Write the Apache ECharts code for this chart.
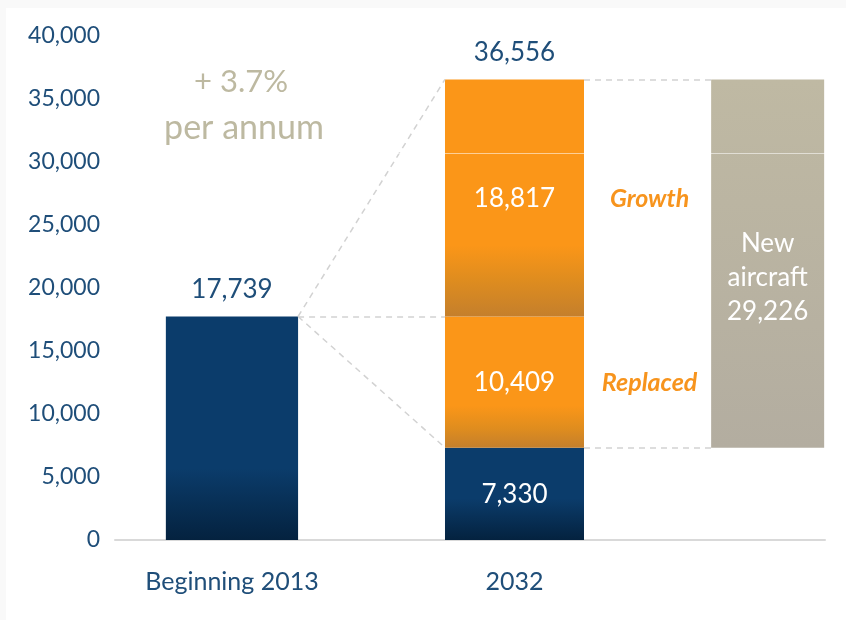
<!DOCTYPE html>
<html>
<head>
<meta charset="utf-8">
<script src="https://cdn.jsdelivr.net/npm/echarts@6/dist/echarts.min.js"></script>
<style>
  html, body { margin: 0; padding: 0; background: #f9f9f9; }
  #chart { width: 846px; height: 620px; }
</style>
</head>
<body>
<div id="chart"></div>
<script>
// ---- data ----
const categories = ['Beginning 2013', '2032'];
const fleet2013 = 17739;
const retained2032 = 7330;
const replaced2032 = 10409;
const growth2032 = 18817;
const total2032 = 36556;
const newAircraft = 29226;
const growthRateText = ['+ 3.7%', 'per annum'];
const segmentNames = ['Growth', 'Replaced'];
const newAircraftName = ['New', 'aircraft'];
const yTickValues = [0, 5000, 10000, 15000, 20000, 25000, 30000, 35000, 40000];

// ---- layout (x slots in axis units) ----
const SLOT = { y2013: 1, y2032: 2, newAc: 2.896 };
const WIDTH = { y2013: 0.468, y2032: 0.492, newAc: 0.40 };
const X_MIN = 0.586, X_MAX = 3.099;

const fmt = v => v.toLocaleString('en-US');

const NAVY = '#0b3c6b', NAVY_D = '#04223f';
const ORANGE = '#fb9618', ORANGE_D = '#c47f2c';
const LABEL_NAVY = '#1f4e79';
const FONT = 'Lato, "Open Sans", sans-serif';

function grad(stops) {
  return new echarts.graphic.LinearGradient(0, 0, 0, 1,
    stops.map(s => ({ offset: s[0], color: s[1] })));
}

// segments: [xSlot, width, from, to, kind]
const segments = [
  [SLOT.y2013, WIDTH.y2013, 0, fleet2013, 0],
  [SLOT.y2032, WIDTH.y2032, 0, retained2032, 1],
  [SLOT.y2032, WIDTH.y2032, retained2032, retained2032 + replaced2032, 2],
  [SLOT.y2032, WIDTH.y2032, retained2032 + replaced2032, total2032, 3],
  [SLOT.newAc, WIDTH.newAc, retained2032, retained2032 + newAircraft, 4]
];

const fills = [
  grad([[0, NAVY], [0.68, NAVY], [1, NAVY_D]]),
  grad([[0, NAVY], [0.55, NAVY], [1, NAVY_D]]),
  grad([[0, ORANGE], [0.68, ORANGE], [0.85, '#e08d1e'], [1, ORANGE_D]]),
  grad([[0, ORANGE], [0.70, ORANGE], [0.85, '#de8c1f'], [1, ORANGE_D]]),
  grad([[0, '#bfb9a3'], [1, '#b3ada0']])
];

const innerText = [
  null,
  fmt(retained2032),
  fmt(replaced2032),
  fmt(growth2032),
  newAircraftName.join('\n') + '\n' + fmt(newAircraft)
];
const topText = [fmt(fleet2013), null, null, fmt(total2032), null];
const sideText = [null, null, segmentNames[1], segmentNames[0], null];

function renderItem(params, api) {
  const x = api.value(0), w = api.value(1), y0 = api.value(2), y1 = api.value(3);
  const kind = api.value(4);
  const p0 = api.coord([x - w / 2, y1]);
  const p1 = api.coord([x + w / 2, y0]);
  const children = [{
    type: 'rect',
    shape: { x: p0[0], y: p0[1], width: p1[0] - p0[0], height: p1[1] - p0[1] },
    style: { fill: fills[kind] }
  }];
  const cx = (p0[0] + p1[0]) / 2, cy = (p0[1] + p1[1]) / 2;
  if (innerText[kind]) {
    children.push({
      type: 'text',
      style: {
        text: innerText[kind], x: cx, y: kind === 4 ? cy + 14 : cy + 1,
        align: 'center', verticalAlign: 'middle',
        fill: '#ffffff', font: '26px ' + FONT, lineHeight: 34
      }
    });
  }
  if (topText[kind]) {
    children.push({
      type: 'text',
      style: {
        text: topText[kind], x: cx, y: p0[1] - 27,
        align: 'center', verticalAlign: 'middle',
        fill: LABEL_NAVY, font: '26px ' + FONT
      }
    });
  }
  if (sideText[kind]) {
    const rightEdge = api.coord([SLOT.y2032 + WIDTH.y2032 / 2, 0])[0];
    const nextLeft = api.coord([SLOT.newAc - WIDTH.newAc / 2, 0])[0];
    children.push({
      type: 'text',
      style: {
        text: sideText[kind], x: (rightEdge + nextLeft) / 2 + 2, y: cy + 1,
        align: 'center', verticalAlign: 'middle',
        fill: '#f7941d', font: 'italic bold 25px ' + FONT
      }
    });
  }
  return { type: 'group', children };
}

const r2013 = SLOT.y2013 + WIDTH.y2013 / 2;
const l2032 = SLOT.y2032 - WIDTH.y2032 / 2;
const r2032 = SLOT.y2032 + WIDTH.y2032 / 2;
const lNew = SLOT.newAc - WIDTH.newAc / 2;

const connectors = [
  { coords: [[r2013, fleet2013], [l2032, total2032]] },
  { coords: [[r2013, fleet2013], [l2032, fleet2013]] },
  { coords: [[r2013, fleet2013], [l2032, retained2032]] },
  { coords: [[r2032, total2032], [lNew, total2032]] },
  { coords: [[r2032, retained2032], [lNew, retained2032]] }
];

const chart = echarts.init(document.getElementById('chart'), null, { renderer: 'canvas' });
chart.setOption({
  backgroundColor: '#ffffff',
  animation: false,
  grid: { left: 115, right: 21, top: 36, bottom: 80 },
  xAxis: {
    type: 'value', min: X_MIN, max: X_MAX,
    splitLine: { show: false },
    axisTick: { show: false },
    axisLine: { show: true, onZero: false, lineStyle: { color: '#d9d9d9', width: 2 } },
    axisLabel: {
      customValues: [SLOT.y2013, SLOT.y2032],
      formatter: v => categories[Math.round(v) - 1],
      color: LABEL_NAVY, fontSize: 25, fontFamily: FONT, margin: 29
    }
  },
  yAxis: {
    type: 'value', min: 0, max: 40000, interval: 5000,
    splitLine: { show: false },
    axisLine: { show: false }, axisTick: { show: false },
    axisLabel: {
      customValues: yTickValues,
      formatter: v => fmt(v), color: LABEL_NAVY, fontSize: 23, fontFamily: FONT, margin: 15
    }
  },
  graphic: [
    { type: 'rect', left: 0, top: 0, shape: { width: 846, height: 8 }, style: { fill: '#f9f9f9' }, silent: true },
    { type: 'rect', left: 0, top: 0, shape: { width: 6, height: 620 }, style: { fill: '#f9f9f9' }, silent: true },
    { type: 'text', silent: true, style: { text: growthRateText[0], x: 241, y: 82, align: 'center', verticalAlign: 'middle', fill: '#bdb9a1', font: '31px ' + FONT } },
    { type: 'text', silent: true, style: { text: growthRateText[1], x: 244, y: 128, align: 'center', verticalAlign: 'middle', fill: '#bdb9a1', font: '34px ' + FONT } }
  ],
  series: [
    {
      type: 'custom',
      renderItem,
      data: segments,
      encode: { x: 0, y: [2, 3] },
      z: 2
    },
    {
      type: 'lines',
      coordinateSystem: 'cartesian2d',
      data: connectors,
      lineStyle: { color: '#d2d2d2', width: 1.5, type: [6, 5], opacity: 1 },
      z: 3,
      silent: true
    },
    {
      type: 'lines',
      coordinateSystem: 'cartesian2d',
      data: [{ coords: [[X_MIN, 30700], [X_MAX, 30700]] }],
      lineStyle: { color: 'rgba(255,255,255,0.55)', width: 1, opacity: 1 },
      z: 4,
      silent: true
    }
  ]
});
</script>
</body>
</html>
